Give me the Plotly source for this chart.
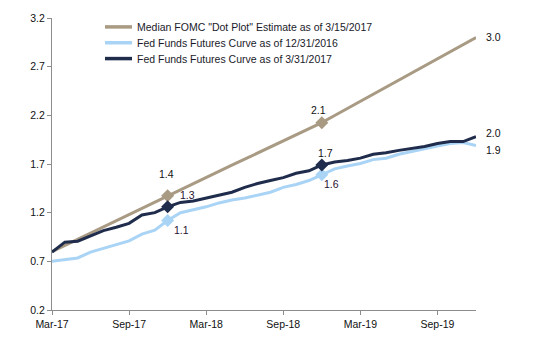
import plotly.graph_objects as go

months = ["Mar-17", "Apr-17", "May-17", "Jun-17", "Jul-17", "Aug-17", "Sep-17", "Oct-17", "Nov-17", "Dec-17",
          "Jan-18", "Feb-18", "Mar-18", "Apr-18", "May-18", "Jun-18", "Jul-18", "Aug-18", "Sep-18", "Oct-18",
          "Nov-18", "Dec-18", "Jan-19", "Feb-19", "Mar-19", "Apr-19", "May-19", "Jun-19", "Jul-19", "Aug-19",
          "Sep-19", "Oct-19", "Nov-19", "Dec-19"]

dot_plot = [0.80, 0.864, 0.928, 0.992, 1.056, 1.119, 1.183, 1.247, 1.311, 1.375,
            1.438, 1.50, 1.563, 1.625, 1.688, 1.75, 1.813, 1.875, 1.938, 2.0,
            2.063, 2.125, 2.198, 2.271, 2.344, 2.417, 2.49, 2.563, 2.635, 2.708,
            2.781, 2.854, 2.927, 3.0]

ff_2016 = [0.70, 0.715, 0.735, 0.795, 0.835, 0.87, 0.91, 0.98, 1.02, 1.12,
           1.20, 1.23, 1.26, 1.30, 1.33, 1.35, 1.38, 1.41, 1.46, 1.49,
           1.53, 1.59, 1.65, 1.68, 1.705, 1.745, 1.76, 1.80, 1.83, 1.855,
           1.885, 1.91, 1.92, 1.89]

ff_2017 = [0.795, 0.897, 0.907, 0.965, 1.016, 1.05, 1.09, 1.176, 1.20, 1.26,
           1.305, 1.32, 1.35, 1.38, 1.41, 1.46, 1.50, 1.53, 1.56, 1.605,
           1.63, 1.69, 1.72, 1.735, 1.76, 1.80, 1.815, 1.84, 1.86, 1.88,
           1.91, 1.93, 1.93, 1.98]

names = ['Median FOMC "Dot Plot" Estimate as of 3/15/2017',
         'Fed Funds Futures Curve as of 12/31/2016',
         'Fed Funds Futures Curve as of 3/31/2017']
colors = ["#a89a83", "#a9d4f5", "#1f2c4c"]
marker_idx = [9, 21]
x_ticks = ["Mar-17", "Sep-17", "Mar-18", "Sep-18", "Mar-19", "Sep-19"]
y_ticks = [0.2, 0.7, 1.2, 1.7, 2.2, 2.7, 3.2]

series = [dot_plot, ff_2016, ff_2017]

# plot-area geometry in pixels (for converting the legend position)
L, R, T, B = 52, 70, 15, 37
W, H = 546, 347
pw, ph = W - L - R, H - T - B


def px(x):
    return (x - L) / pw


def py(y):
    return (H - B - y) / ph


FS = 10.5
fig = go.Figure()
for s, n, c in zip(series, names, colors):
    fig.add_trace(go.Scatter(x=months, y=s, mode="lines", name=n,
                             line=dict(color=c, width=3), showlegend=False))
for s, c in zip(series, colors):
    fig.add_trace(go.Scatter(x=[months[i] for i in marker_idx], y=[s[i] for i in marker_idx],
                             mode="markers", showlegend=False,
                             marker=dict(symbol="diamond", size=10, color=c)))

label_color = "#2a1030"
marker_labels = [(dot_plot, 9, -1, 22, "#111111"), (ff_2017, 9, 20, 12, label_color), (ff_2016, 9, 14, -10, label_color),
                 (dot_plot, 21, -3, 13, "#111111"), (ff_2017, 21, 4, 12, "#111111"), (ff_2016, 21, 10, -9, label_color)]
annotations = []
for s, i, xs, ys, col in marker_labels:
    annotations.append(dict(x=months[i], y=s[i], text=f"{s[i]:.1f}", showarrow=False,
                            xshift=xs, yshift=ys, font=dict(size=FS, color=col)))
for s, ys in zip(series, [0, -4, 4]):
    annotations.append(dict(x=months[-1], y=s[-1], text=f"{s[-1]:.1f}", showarrow=False,
                            xanchor="left", xshift=8, yshift=ys, font=dict(size=FS, color="#111111")))

# manual legend (line samples + text)
shapes = []
for k, (n, c) in enumerate(zip(names, colors)):
    yy = 24 + 16 * k
    shapes.append(dict(type="line", xref="paper", yref="paper", x0=px(105), x1=px(132),
                       y0=py(yy), y1=py(yy), line=dict(color=c, width=3.5)))
    annotations.append(dict(xref="paper", yref="paper", x=px(135), y=py(yy), text=n,
                            showarrow=False, xanchor="left", yanchor="middle",
                            font=dict(size=FS, color="#1a1a2a")))

fig.update_layout(
    width=W, height=H,
    margin=dict(l=L, r=R, t=T, b=B),
    plot_bgcolor="white", paper_bgcolor="white",
    font=dict(family="Liberation Sans, Arial, sans-serif", size=FS, color="#111111"),
    showlegend=False,
    annotations=annotations,
    shapes=shapes,
    xaxis=dict(type="category", range=[0, len(months) - 1], tickmode="array", tickvals=x_ticks,
               ticktext=x_ticks, showgrid=False, showline=True, linecolor="#8c8c8c", linewidth=1,
               ticks="outside", ticklen=4, tickcolor="#8c8c8c", zeroline=False,
               tickfont=dict(size=FS, color="#111111")),
    yaxis=dict(range=[0.2, 3.2], tickmode="array", tickvals=y_ticks, ticktext=[f"{v:.1f}" for v in y_ticks],
               showgrid=False, showline=True, linecolor="#8c8c8c", linewidth=1,
               ticks="outside", ticklen=4, tickcolor="#8c8c8c", zeroline=False,
               tickfont=dict(size=FS, color="#111111")),
)

fig.write_html("out.html")
